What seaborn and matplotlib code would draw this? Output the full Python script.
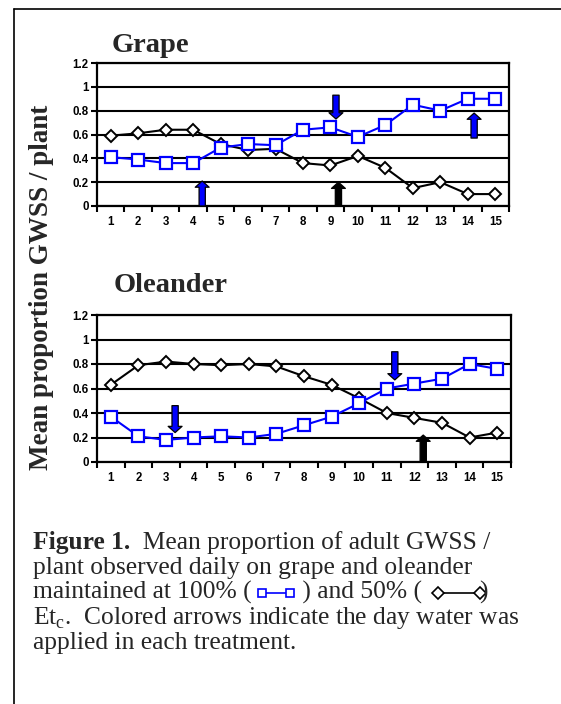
import numpy as np
import pandas as pd
import matplotlib
matplotlib.use("Agg")
import matplotlib.pyplot as plt
from matplotlib.lines import Line2D
import seaborn as sns

# ---- data -------------------------------------------------------------
days = list(range(1, 16))
ytick_vals = [0, 0.2, 0.4, 0.6, 0.8, 1.0, 1.2]
ytick_labels = ["0", "0.2", "0.4", "0.6", "0.8", "1", "1.2"]

grape_100 = [0.41, 0.39, 0.36, 0.36, 0.49, 0.52, 0.51, 0.64, 0.66, 0.58, 0.68, 0.85, 0.80, 0.90, 0.90]
grape_50 = [0.59, 0.61, 0.64, 0.64, 0.52, 0.47, 0.48, 0.36, 0.34, 0.42, 0.32, 0.15, 0.20, 0.10, 0.10]
oleander_100 = [0.37, 0.21, 0.18, 0.20, 0.21, 0.20, 0.23, 0.30, 0.37, 0.48, 0.60, 0.64, 0.68, 0.80, 0.76]
oleander_50 = [0.63, 0.79, 0.82, 0.80, 0.79, 0.80, 0.78, 0.70, 0.63, 0.52, 0.40, 0.36, 0.32, 0.20, 0.24]

# watering events: (day position, arrow start, arrow tip, treatment)
grape_water = [(4.33, 0.0, 0.21, "100%"), (9.29, 0.0, 0.20, "50%"),
               (9.20, 0.93, 0.73, "100%"), (14.23, 0.57, 0.78, "100%")]
oleander_water = [(3.33, 0.46, 0.24, "100%"), (11.29, 0.90, 0.67, "100%"),
                  (12.32, 0.0, 0.22, "50%")]

BLUE = "#0000FF"
colors = {"100%": BLUE, "50%": "black"}

# ---- figure -----------------------------------------------------------
sns.set_theme(style="white")
plt.rcParams["font.family"] = ["Liberation Serif", "DejaVu Serif"]
plt.rcParams["mathtext.fontset"] = "custom"
plt.rcParams["mathtext.rm"] = "Liberation Serif"

W, H = 561, 704
fig = plt.figure(figsize=(W / 100, H / 100), dpi=100)
fig.patch.set_facecolor("white")


def fx(px):
    return px / W


def fy(py):
    return 1 - py / H


def panel(rect_px, title, title_xy, v100, v50, water):
    l, t, r, b = rect_px
    ax = fig.add_axes([fx(l), fy(b), fx(r) - fx(l), fy(t) - fy(b)])
    ax.set_facecolor("white")
    for y in ytick_vals:
        ax.axhline(y, color="black", lw=1.5, zorder=1)
    for x, y0, y1, trt in water:
        ax.annotate("", xy=(x, y1), xytext=(x, y0),
                    arrowprops=dict(arrowstyle="simple,head_length=4.5,head_width=10,tail_width=4.5",
                                    mutation_scale=1, fc=colors[trt], ec="black", lw=0.9,
                                    shrinkA=0, shrinkB=0),
                    zorder=3, annotation_clip=False)
    sns.lineplot(x=days, y=v50, ax=ax, color="black", lw=1.5, marker="D",
                 markersize=6.2, markerfacecolor="white", markeredgecolor="black",
                 markeredgewidth=1.4, zorder=4)
    sns.lineplot(x=days, y=v100, ax=ax, color=BLUE, lw=1.5, marker="s",
                 markersize=8.5, markerfacecolor="white", markeredgecolor=BLUE,
                 markeredgewidth=1.6, zorder=5)
    ax.set_xlim(0.5, 15.5)
    ax.set_ylim(0, 1.2)
    ax.set_xlabel("")
    ax.set_ylabel("")
    ax.set_xticks(days)
    ax.set_xticklabels([str(d) for d in days])
    ax.set_xticks(np.arange(0.5, 16, 1), minor=True)
    ax.set_yticks(ytick_vals)
    ax.set_yticklabels(ytick_labels)
    ax.tick_params(axis="x", which="major", length=0, pad=7)
    ax.tick_params(axis="x", which="minor", length=4, width=1.5, direction="out",
                   color="black", bottom=True)
    ax.tick_params(axis="y", which="major", length=4, width=1.5, direction="out",
                   color="black", left=True, pad=2)
    for lab in ax.get_xticklabels() + ax.get_yticklabels():
        lab.set_fontfamily("Liberation Sans")
        lab.set_fontweight("bold")
        lab.set_fontsize(8.3)
        lab.set_color("black")
    for s in ax.spines.values():
        s.set_color("black")
        s.set_linewidth(1.6)
        s.set_visible(True)
    fig.text(fx(title_xy[0]), fy(title_xy[1]), title, fontsize=20.5,
             fontweight="bold", va="baseline", ha="left")
    return ax


panel((97, 63, 509, 206), "Grape", (112, 52), grape_100, grape_50, grape_water)
panel((97, 315, 511, 462), "Oleander", (114, 292), oleander_100, oleander_50, oleander_water)

fig.text(fx(42), fy(287), "Mean proportion GWSS / plant", rotation=90,
         fontsize=19.5, fontweight="bold", ha="center", va="center")

# frame lines around the figure block
fig.add_artist(Line2D([fx(14), fx(14)], [fy(9), fy(H + 2)], color="black", lw=1.2))
fig.add_artist(Line2D([fx(14), fx(W + 2)], [fy(9), fy(9)], color="black", lw=1.2))

# ---- caption ----------------------------------------------------------
fig.canvas.draw()
renderer = fig.canvas.get_renderer()
CAP = 18.4


def put(x_px, base_px, s, **kw):
    t = fig.text(fx(x_px), fy(base_px), s, fontsize=CAP, va="baseline", ha="left", **kw)
    return t.get_window_extent(renderer).x1


def glyph(x0, x1, base_px, marker, color, ms):
    y = fy(base_px - 6)
    fig.add_artist(Line2D([fx(x0), fx(x1)], [y, y], color=color, lw=1.2,
                          marker=marker, markersize=ms, markerfacecolor="white",
                          markeredgecolor=color, markeredgewidth=1.2))


X0 = 33
b1, b2, b3, b4, b5 = 549, 574, 599, 624, 649
x = put(X0, b1, "Figure 1.", fontweight="bold")
put(x, b1, "  Mean proportion of adult GWSS /")
put(X0, b2, "plant observed daily on grape and oleander")
x = put(X0, b3, "maintained at 100% (")
glyph(x + 10, x + 38, b3, "s", BLUE, 6)
x = put(x + 44, b3, " ) and 50% (")
glyph(x + 16, x + 58, b3, "D", "black", 6.5)
put(x + 58, b3, ")")
put(X0, b4, "Et$_{\\mathregular{c}}$.  Colored arrows indicate the day water was")
put(X0, b5, "applied in each treatment.")

fig.savefig("out.png", dpi=100, facecolor="white")
